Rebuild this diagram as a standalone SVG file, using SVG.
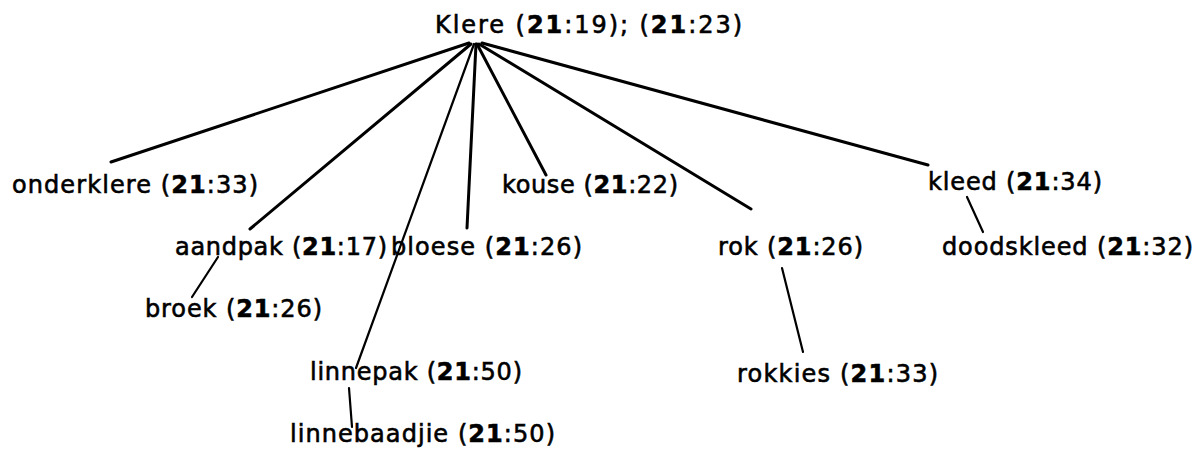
<svg xmlns="http://www.w3.org/2000/svg" width="1203" height="453" viewBox="0 0 1203 453">
<style>
text{font-family:"DejaVu Sans","Noto Sans",sans-serif;font-size:24px;fill:#000;stroke:#000;stroke-width:0.6}
.b{font-weight:bold}
.e{stroke:#000;stroke-width:3;fill:none;stroke-linecap:round}
.s{stroke:#000;stroke-width:2.2;fill:none;stroke-linecap:round}
</style>
<rect width="1203" height="453" fill="#fff"/>
<g id="connectors">
<line class="e" x1="469" y1="43" x2="111" y2="162"/>
<line class="e" x1="471" y1="44" x2="250" y2="229"/>
<line class="s" x1="474" y1="44" x2="356" y2="368"/>
<line class="e" x1="476" y1="44" x2="467" y2="228"/>
<line class="e" x1="477" y1="44" x2="546" y2="175"/>
<line class="e" x1="479" y1="44" x2="751" y2="209"/>
<line class="e" x1="482" y1="43" x2="928" y2="165"/>
<line class="s" x1="218" y1="257" x2="192" y2="297"/>
<line class="s" x1="349" y1="388" x2="352" y2="427"/>
<line class="s" x1="782" y1="268" x2="803" y2="352"/>
<line class="s" x1="967" y1="197" x2="983" y2="232"/>
</g>
<g id="klere"><text x="435" y="33" textLength="307" lengthAdjust="spacing">Klere (<tspan class="b">21</tspan>:19); (<tspan class="b">21</tspan>:23)</text></g>
<g id="onderklere"><text x="12" y="193" textLength="246" lengthAdjust="spacing">onderklere (<tspan class="b">21</tspan>:33)</text></g>
<g id="aandpak"><text x="175" y="255" textLength="212" lengthAdjust="spacing">aandpak (<tspan class="b">21</tspan>:17)</text></g>
<g id="broek"><text x="145" y="317" textLength="177" lengthAdjust="spacing">broek (<tspan class="b">21</tspan>:26)</text></g>
<g id="linnepak"><text x="310" y="380" textLength="212" lengthAdjust="spacing">linnepak (<tspan class="b">21</tspan>:50)</text></g>
<g id="linnebaadjie"><text x="290" y="442" textLength="265" lengthAdjust="spacing">linnebaadjie (<tspan class="b">21</tspan>:50)</text></g>
<g id="bloese"><text x="391" y="255" textLength="191" lengthAdjust="spacing">bloese (<tspan class="b">21</tspan>:26)</text></g>
<g id="kouse"><text x="502" y="193" textLength="176" lengthAdjust="spacing">kouse (<tspan class="b">21</tspan>:22)</text></g>
<g id="rok"><text x="718" y="255" textLength="145" lengthAdjust="spacing">rok (<tspan class="b">21</tspan>:26)</text></g>
<g id="rokkies"><text x="737" y="382" textLength="201" lengthAdjust="spacing">rokkies (<tspan class="b">21</tspan>:33)</text></g>
<g id="kleed"><text x="928" y="190" textLength="174" lengthAdjust="spacing">kleed (<tspan class="b">21</tspan>:34)</text></g>
<g id="doodskleed"><text x="942" y="255" textLength="251" lengthAdjust="spacing">doodskleed (<tspan class="b">21</tspan>:32)</text></g>
</svg>
